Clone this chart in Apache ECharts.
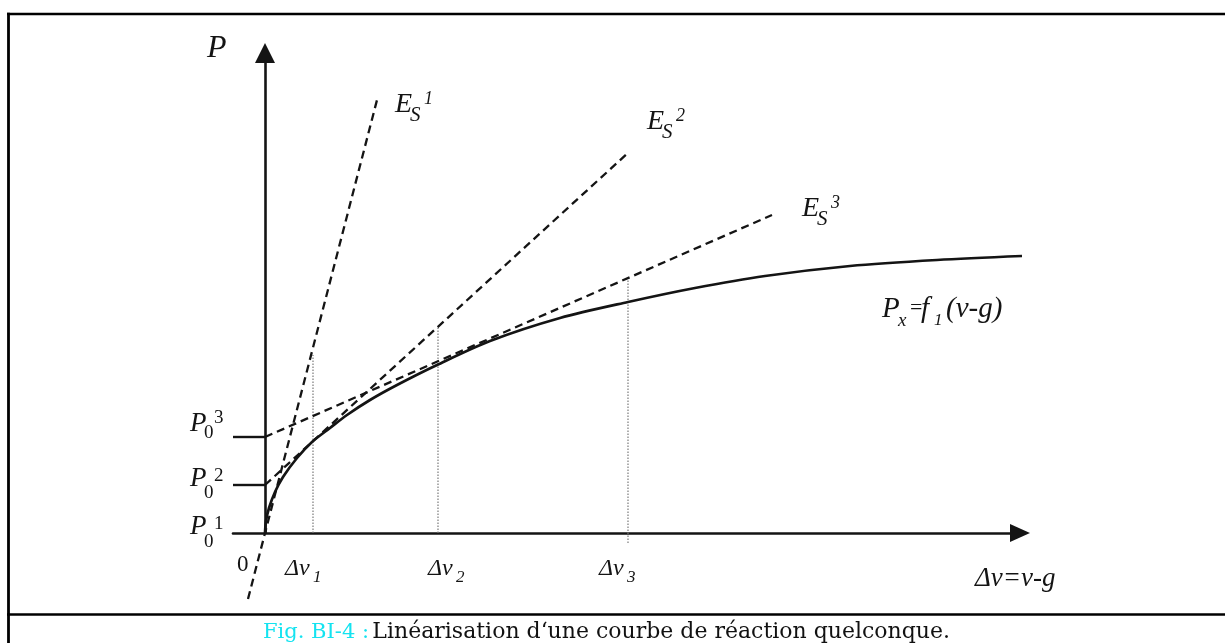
<!DOCTYPE html>
<html><head><meta charset="utf-8">
<script src="https://cdn.jsdelivr.net/npm/echarts@6/dist/echarts.min.js"></script>
<style>html,body{margin:0;padding:0;background:#fff}#c{width:1225px;height:643px}</style>
</head><body><div id="c"></div>
<script>
// ---- data (arbitrary units: Δv horizontally, P vertically) ----
const curveX = [0, 0.01, 0.04, 0.10, 0.18, 0.32, 0.47, 0.65, 0.82, 1.05, 1.32, 1.72, 2.25, 2.95, 3.63, 4.3, 5.0, 5.85, 6.72, 7.57];
const curveY = [0, 0.12, 0.25, 0.41, 0.56, 0.75, 0.91, 1.05, 1.18, 1.33, 1.48, 1.68, 1.92, 2.15, 2.31, 2.45, 2.57, 2.67, 2.73, 2.77];
const tangentFromX = [-0.17, 0, 0];
const tangentFromY = [-0.66, 0.48, 0.96];
const tangentToX = [1.12, 3.64, 5.07];
const tangentToY = [4.33, 3.81, 3.18];
const interceptY = [0, 0.48, 0.96];       // P0^1, P0^2, P0^3
const markX = [0.48, 1.73, 3.63];         // Δv1, Δv2, Δv3
const markTop = [1.78, 2.06, 2.57];
const markBottom = [0, 0, -0.1];
const indexLabels = ['1', '2', '3'];
const axisXMin = -0.32, axisXMax = 7.55, axisYMin = 0, axisYMax = 4.8;
const captionTag = 'Fig. BI-4 :';
const captionText = 'Linéarisation d‘une courbe de réaction quelconque.';

const chart = echarts.init(document.getElementById('c'), null, {renderer: 'canvas'});
const INK = '#141414';
const series = [];
series.push({type: 'line', name: 'P_x', data: curveX.map((x, i) => [x, curveY[i]]), smooth: 0.3,
  showSymbol: false, symbol: 'none', clip: false,
  lineStyle: {color: INK, width: 2.7}, z: 5});
for (let i = 0; i < 3; i++) {
  series.push({type: 'line', name: 'E' + indexLabels[i],
    data: [[tangentFromX[i], tangentFromY[i]], [tangentToX[i], tangentToY[i]]],
    symbol: 'none', clip: false, lineStyle: {color: INK, width: 2.3, type: [8, 5]}, z: 4});
  series.push({type: 'line', name: 'dv' + indexLabels[i],
    data: [[markX[i], markBottom[i]], [markX[i], markTop[i]]],
    symbol: 'none', clip: false, lineStyle: {color: '#7a7a7a', width: 1.2, type: [1.5, 1.5]}, z: 2});
}
for (let i = 1; i < 3; i++) {
  series.push({type: 'line', name: 'tick' + i,
    data: [[axisXMin, interceptY[i]], [0, interceptY[i]]],
    symbol: 'none', clip: false, lineStyle: {color: INK, width: 2.4}, z: 3});
}

function T(text, x, base, size, style, extra) {
  return Object.assign({type: 'text', x: x, y: base - 0.3 * size, z: 100,
    style: {text: text, font: (style || 'italic') + ' ' + size + 'px "Liberation Serif"', fill: INK,
      align: 'left', verticalAlign: 'middle', textAlign: 'left', textVerticalAlign: 'middle'}}, extra || {});
}
const g = [];
// frame
g.push({type: 'line', shape: {x1: 7, y1: 14, x2: 1225, y2: 14}, style: {stroke: '#000', lineWidth: 2.6}});
g.push({type: 'line', shape: {x1: 8.5, y1: 12.7, x2: 8.5, y2: 643}, style: {stroke: '#000', lineWidth: 2.8}});
g.push({type: 'line', shape: {x1: 7, y1: 614.5, x2: 1225, y2: 614.5}, style: {stroke: '#000', lineWidth: 2.6}});
// axis labels
g.push(T('P', 207, 58, 32));
g.push(T('0', 237, 572, 23, 'normal'));
g.push(T('Δv=v-g', 975, 587, 27));
// tangent labels
const eX = [395, 647, 802], eB = [113, 130, 217];
for (let i = 0; i < 3; i++) {
  g.push(T('E', eX[i], eB[i], 28));
  g.push(T('S', eX[i] + 15, eB[i] + 9, 21));
  g.push(T(indexLabels[i], eX[i] + 29, eB[i] - 8, 18));
}
// curve label P_x = f_1(v-g)
g.push(T('P', 882, 318, 29));
g.push(T('x', 898, 327, 19));
g.push(T('=', 910, 315, 22, 'normal'));
g.push(T('f', 921, 318, 29));
g.push(T('1', 934, 326, 17));
g.push(T('(v-g)', 946, 318, 29));
// Δv labels
const dvX = [285, 428, 599];
for (let i = 0; i < 3; i++) {
  g.push(T('Δv', dvX[i], 576, 24));
  g.push(T(indexLabels[i], dvX[i] + 28, 583, 17));
}
// P0 labels
const pB = [535, 487, 432], supB = [530, 482, 424], subB = [548, 499, 439];
for (let i = 0; i < 3; i++) {
  g.push(T('P', 190, pB[i], 27));
  g.push(T('0', 204, subB[i], 19, 'normal'));
  g.push(T(indexLabels[i], 214, supB[i], 19, 'normal'));
}
// caption
g.push({type: 'text', x: 263, y: 639 - 0.3 * 22, z: 100, style: {
  text: '{a|' + captionTag + '} {b|' + captionText + '}', align: 'left', verticalAlign: 'middle',
  textAlign: 'left', textVerticalAlign: 'middle',
  rich: {a: {fill: '#14e3f0', font: '21px "DejaVu Serif"'}, b: {fill: '#111', font: '22px "DejaVu Serif"'}}}});

chart.setOption({
  animation: false,
  backgroundColor: '#fff',
  grid: {left: 233, right: 205, top: 53, bottom: 110, containLabel: false},
  xAxis: {type: 'value', min: axisXMin, max: axisXMax, splitLine: {show: false}, axisTick: {show: false},
    axisLabel: {show: false},
    axisLine: {show: true, onZero: true, symbol: ['none', 'triangle'], symbolSize: [18, 20],
      lineStyle: {color: INK, width: 2.6}}},
  yAxis: {type: 'value', min: axisYMin, max: axisYMax, splitLine: {show: false}, axisTick: {show: false},
    axisLabel: {show: false},
    axisLine: {show: true, onZero: true, symbol: ['none', 'triangle'], symbolSize: [20, 20],
      lineStyle: {color: INK, width: 2.6}}},
  series: series,
  graphic: {elements: g}
});
</script></body></html>
